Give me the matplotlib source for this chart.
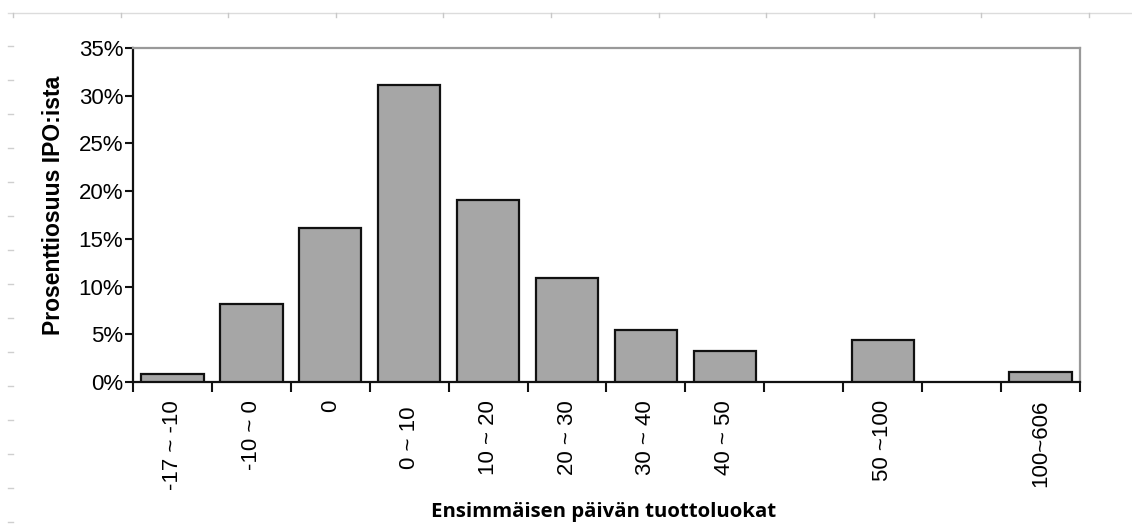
import matplotlib
matplotlib.use("Agg")
import matplotlib.pyplot as plt
from matplotlib.lines import Line2D
from matplotlib.ticker import PercentFormatter, FixedLocator
import numpy as np

categories = ["-17 ~ -10", "-10 ~ 0", "0", "0 ~ 10 ", "10 ~ 20", "20 ~ 30",
              "30 ~ 40", "40 ~ 50", "", "50 ~100", "", "100~606"]
values = [0.8, 8.2, 16.1, 31.1, 19.1, 10.9, 5.5, 3.2, 0.0, 4.4, 0.0, 1.0]
y_ticks = [0, 5, 10, 15, 20, 25, 30, 35]

W, H = 1132, 525
fig = plt.figure(figsize=(W / 100, H / 100), dpi=100)
fig.patch.set_facecolor("white")

# faint ruler decoration (from the document screenshot)
fig.add_artist(Line2D([8 / W, 1.0], [1 - 13 / H, 1 - 13 / H], color="#dcdcdc", lw=1.0))
for k in range(11):
    xx = (13 + 107.6 * k) / W
    fig.add_artist(Line2D([xx, xx], [1 - 13 / H, 1 - 17 / H], color="#c8c8c8", lw=1.0))
for k in range(15):
    yy = 1 - (46 + 34 * k) / H
    fig.add_artist(Line2D([8 / W, 13 / W], [yy, yy], color="#cfcfcf", lw=1.0))

ax = fig.add_axes([133 / W, (H - 382) / H, (1080 - 133) / W, (382 - 48) / H])
x = np.arange(len(categories))
heights = [v if v > 0 else np.nan for v in values]
ax.bar(x, heights, width=0.79, color="#a6a6a6", edgecolor="#111111", linewidth=1.6, zorder=3)

ax.set_xlim(-0.5, len(categories) - 0.5)
ax.set_ylim(0, 35)
ax.set_yticks(y_ticks)
ax.yaxis.set_major_formatter(PercentFormatter(decimals=0))

ax.set_xticks(x)
ax.set_xticklabels(categories, rotation=90, fontsize=16, family="Liberation Sans", va="top")
ax.tick_params(axis="x", which="major", length=0, pad=13)
ax.xaxis.set_minor_locator(FixedLocator(np.arange(-0.5, len(categories), 1.0)))
ax.tick_params(axis="x", which="minor", length=7, width=1.5, color="#111111", direction="out")
ax.tick_params(axis="y", length=6, width=1.5, color="#111111", direction="out", pad=1)
for lab in ax.get_yticklabels():
    lab.set_fontsize(16)
    lab.set_family("Liberation Sans")

for s in ["left", "bottom"]:
    ax.spines[s].set_color("#111111")
    ax.spines[s].set_linewidth(1.6)
for s in ["top", "right"]:
    ax.spines[s].set_color("#999999")
    ax.spines[s].set_linewidth(1.6)

ax.set_ylabel("Prosenttiosuus IPO:ista", fontsize=16.5, fontweight="bold",
              family="Liberation Sans", labelpad=10)
ax.yaxis.label.set_y(0.53)
fig.text(604 / W, 1 - 512 / H, "Ensimmäisen päivän tuottoluokat", ha="center", va="center",
         fontsize=14.7, fontweight="bold", family="Open Sans")

fig.savefig("out.png", dpi=100, facecolor="white")
